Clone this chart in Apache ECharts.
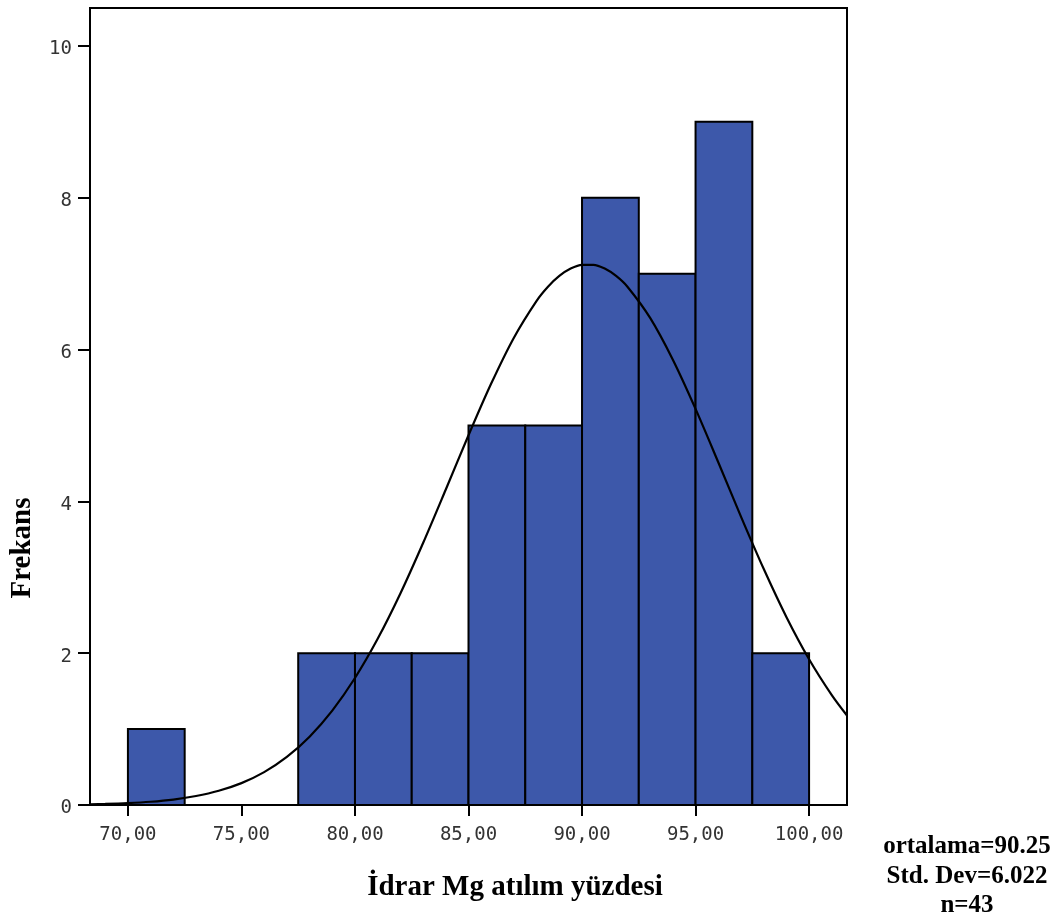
<!DOCTYPE html>
<html>
<head>
<meta charset="utf-8">
<script src="https://cdn.jsdelivr.net/npm/echarts@6/dist/echarts.min.js"></script>
<style>
html,body{margin:0;padding:0;background:#fff;}
#chart{width:1063px;height:919px;}
</style>
</head>
<body>
<div id="chart"></div>
<script>
// Histogram bins (start of each bin) and counts
const binStarts = [70, 72.5, 75, 77.5, 80, 82.5, 85, 87.5, 90, 92.5, 95, 97.5];
const binCounts = [1, 0, 0, 2, 2, 2, 5, 5, 8, 7, 9, 2];
const binWidth = 2.5;

// Fitted normal curve points
const curveX = [68.33, 69, 70, 71, 72, 73, 74, 75, 76, 77, 78, 79, 80, 81, 82, 83, 84, 85, 86, 87, 88, 88.5, 89, 89.5, 90, 90.5, 91, 91.5, 92, 93, 94, 95, 96, 97, 98, 99, 100, 101, 101.67];
const curveY = [0.01, 0.014, 0.025, 0.043, 0.072, 0.118, 0.187, 0.288, 0.433, 0.633, 0.90, 1.244, 1.673, 2.189, 2.786, 3.451, 4.156, 4.871, 5.552, 6.157, 6.642, 6.828, 6.970, 7.067, 7.116, 7.116, 7.067, 6.970, 6.828, 6.417, 5.866, 5.218, 4.515, 3.800, 3.112, 2.478, 1.921, 1.448, 1.179];

const xTicks = [70, 75, 80, 85, 90, 95, 100];
const yTicks = [0, 2, 4, 6, 8, 10];

const xTitle = 'İdrar Mg atılım yüzdesi';
const yTitle = 'Frekans';
const statsLines = ['ortalama=90.25', 'Std. Dev=6.022', 'n=43'];

const chart = echarts.init(document.getElementById('chart'), null, {renderer: 'canvas'});

const barData = binStarts.map((s, i) => [s, s + binWidth, binCounts[i]]).filter(d => d[2] > 0);
const curveData = curveX.map((x, i) => [x, curveY[i]]);

const tickFont = {fontFamily: '"DejaVu Sans Mono", monospace', fontSize: 19, color: '#333'};

chart.setOption({
  animation: false,
  backgroundColor: '#fff',
  grid: {left: 90, right: 216, top: 8, bottom: 114, show: true, borderColor: '#000', borderWidth: 2, backgroundColor: 'transparent'},
  xAxis: {
    type: 'value', min: 68.33, max: 101.67,
    splitLine: {show: false},
    axisLine: {show: true, onZero: false, lineStyle: {color: '#000', width: 2}},
    axisTick: {show: true, inside: false, length: 11, lineStyle: {color: '#000', width: 2}, customValues: xTicks},
    axisLabel: Object.assign({margin: 21, customValues: xTicks, formatter: v => v.toFixed(2).replace('.', ',')}, tickFont)
  },
  yAxis: {
    type: 'value', min: 0, max: 10.5,
    splitLine: {show: false},
    axisLine: {show: true, onZero: false, lineStyle: {color: '#000', width: 2}},
    axisTick: {show: true, inside: false, length: 12, lineStyle: {color: '#000', width: 2}, customValues: yTicks},
    axisLabel: Object.assign({margin: 18, customValues: yTicks, formatter: v => String(v), verticalAlign: 'top', padding: [-6, 0, 0, 0]}, tickFont)
  },
  series: [
    {
      type: 'custom',
      z: 2,
      clip: true,
      data: barData,
      encode: {x: [0, 1], y: 2},
      renderItem: function (params, api) {
        const p0 = api.coord([api.value(0), api.value(2)]);
        const p1 = api.coord([api.value(1), 0]);
        return {
          type: 'rect',
          shape: {x: p0[0], y: p0[1], width: p1[0] - p0[0], height: p1[1] - p0[1]},
          style: {fill: '#3d58aa', stroke: '#000', lineWidth: 2}
        };
      }
    },
    {
      type: 'line',
      z: 5,
      data: curveData,
      smooth: 0.3,
      showSymbol: false,
      clip: true,
      lineStyle: {color: '#000', width: 2.2}
    }
  ],
  graphic: [
    {
      type: 'text',
      x: 515, y: 888,
      style: {text: xTitle, font: 'bold 29px "Liberation Serif", "Times New Roman", serif', fill: '#000', textAlign: 'center', textVerticalAlign: 'middle'}
    },
    {
      type: 'text',
      x: 23, y: 548,
      rotation: Math.PI / 2,
      style: {text: yTitle, font: 'bold 29px "Liberation Serif", "Times New Roman", serif', fill: '#000', textAlign: 'center', textVerticalAlign: 'middle'}
    },
    {
      type: 'text',
      x: 967, y: 832,
      style: {text: statsLines.join('\n'), font: 'bold 25px "Liberation Serif", "Times New Roman", serif', lineHeight: 29.5, fill: '#000', textAlign: 'center', textVerticalAlign: 'top'}
    }
  ]
});
</script>
</body>
</html>
